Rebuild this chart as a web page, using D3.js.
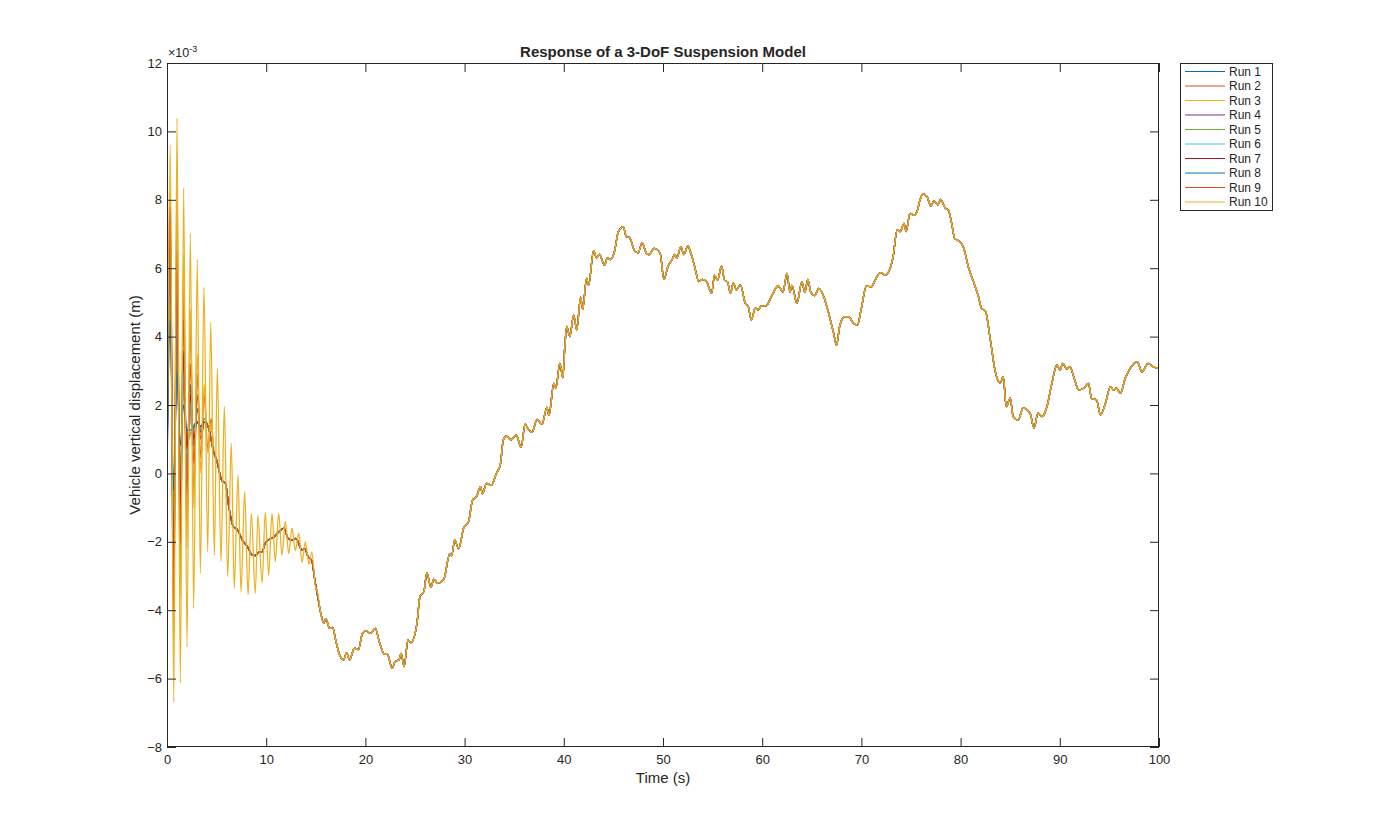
<!DOCTYPE html>
<html><head><meta charset="utf-8">
<script src="https://cdn.jsdelivr.net/npm/d3@7"></script>
<style>
body{margin:0;background:#fff}
svg{display:block}
text{font-family:"Liberation Sans",Arial,Helvetica,sans-serif;fill:#262626}
</style>
</head><body>
<svg id="chart" width="1394" height="840"></svg>
<script>
// ---------------- data (displacement in units of 1e-3 m) ----------------
const chartTitle = "Response of a 3-DoF Suspension Model";
const xLabel = "Time (s)";
const yLabel = "Vehicle vertical displacement (m)";
const runNames = ["Run 1","Run 2","Run 3","Run 4","Run 5","Run 6","Run 7","Run 8","Run 9","Run 10"];
const runColors = ["#0072BD","#D95319","#EDB120","#7E2F8E","#77AC30","#4DBEEE","#A2142F","#0072BD","#D95319","#EDB120"];
const xTicks = [0,10,20,30,40,50,60,70,80,90,100];
const yTicks = [-8,-6,-4,-2,0,2,4,6,8,10,12];

// common trajectory shared by all runs once the start-up transient has settled
const baseTrack = [[1.35,1.51],[2.0,1.27],[2.5,1.27],[3.0,1.51],[3.4,1.37],[3.8,1.51],[4.2,1.32],[4.7,0.63],[5.0,0.39],[5.5,-0.19],[5.9,-0.3],[6.2,-0.92],[6.7,-1.56],[7.1,-1.65],[7.6,-1.95],[8.1,-2.14],[8.6,-2.39],[8.9,-2.4],[9.3,-2.3],[9.6,-2.29],[9.9,-2.04],[10.2,-1.95],[10.8,-1.85],[11.3,-1.7],[11.8,-1.6],[12.2,-1.9],[12.6,-1.95],[13.0,-1.9],[13.6,-2.24],[13.9,-2.2],[14.2,-2.43],[14.6,-2.55],[14.9,-3.12],[15.2,-3.6],[15.5,-4.09],[15.8,-4.38],[16.0,-4.25],[16.4,-4.53],[16.7,-4.5],[17.0,-4.87],[17.4,-5.31],[17.8,-5.45],[18.1,-5.25],[18.4,-5.45],[18.9,-5.11],[19.3,-5.15],[19.7,-4.68],[20.1,-4.6],[20.5,-4.68],[21.0,-4.53],[21.4,-4.92],[21.9,-5.28],[22.2,-5.28],[22.7,-5.7],[23.0,-5.5],[23.4,-5.45],[23.6,-5.26],[23.9,-5.65],[24.3,-4.87],[24.6,-4.95],[25.2,-4.38],[25.5,-3.6],[25.9,-3.45],[26.2,-2.9],[26.6,-3.33],[26.9,-3.1],[27.3,-3.21],[27.9,-3.1],[28.5,-2.36],[28.7,-2.4],[29.0,-1.95],[29.4,-2.2],[29.9,-1.6],[30.4,-1.41],[30.8,-0.78],[31.2,-0.68],[31.6,-0.39],[31.8,-0.6],[32.2,-0.29],[32.7,-0.35],[33.2,0.0],[33.6,0.25],[33.9,0.98],[34.2,1.09],[34.7,0.98],[35.2,1.12],[35.7,0.76],[36.1,1.44],[36.4,1.3],[36.8,1.2],[37.3,1.58],[37.8,1.44],[38.3,1.93],[38.5,1.7],[39.0,2.63],[39.2,2.5],[39.6,3.22],[39.9,2.8],[40.1,3.7],[40.3,4.3],[40.6,4.0],[41.0,4.63],[41.3,4.2],[41.7,5.15],[41.9,4.8],[42.3,5.7],[42.5,5.5],[43.0,6.51],[43.3,6.3],[43.6,6.4],[44.1,6.09],[44.4,6.3],[44.7,6.25],[45.1,6.48],[45.5,7.07],[46.0,7.21],[46.3,6.92],[46.6,6.9],[47.2,6.48],[47.5,6.45],[47.9,6.75],[48.3,6.45],[48.6,6.4],[49.1,6.58],[49.7,6.45],[50.1,5.67],[50.5,6.05],[50.9,6.24],[51.2,6.4],[51.4,6.3],[51.8,6.63],[52.1,6.4],[52.5,6.65],[52.8,6.45],[53.2,6.04],[53.6,5.61],[54.0,5.67],[54.4,5.6],[54.9,5.27],[55.2,5.8],[55.5,5.65],[55.9,6.06],[56.2,5.65],[56.5,5.6],[56.8,5.27],[57.1,5.56],[57.4,5.37],[57.8,5.51],[58.3,4.97],[58.6,4.87],[58.9,4.49],[59.3,4.83],[59.6,4.78],[59.9,4.9],[60.4,4.9],[61.0,5.22],[61.6,5.48],[62.1,5.31],[62.5,5.85],[62.8,5.3],[63.0,5.5],[63.5,4.97],[64.0,5.6],[64.3,5.3],[64.6,5.67],[64.9,5.3],[65.3,5.2],[65.7,5.41],[66.2,5.17],[66.7,4.68],[67.2,4.1],[67.5,3.75],[67.8,4.29],[68.3,4.58],[68.7,4.58],[69.2,4.39],[69.6,4.34],[70.0,4.83],[70.5,5.48],[71.0,5.45],[71.3,5.6],[71.9,5.87],[72.4,5.8],[72.7,5.87],[73.2,6.34],[73.6,7.12],[73.9,7.07],[74.3,7.31],[74.5,7.07],[74.9,7.6],[75.3,7.55],[75.6,7.65],[75.9,7.99],[76.2,8.17],[76.6,8.1],[77.0,7.82],[77.3,7.97],[77.7,7.85],[78.0,8.01],[78.4,7.78],[78.8,7.68],[79.1,7.31],[79.4,6.87],[79.8,6.8],[80.3,6.6],[80.8,6.02],[81.3,5.6],[81.8,5.17],[82.1,4.83],[82.5,4.75],[83.0,3.9],[83.5,2.97],[84.0,2.64],[84.3,2.83],[84.6,1.95],[85.0,2.2],[85.3,1.66],[85.8,1.56],[86.3,1.91],[87.0,1.76],[87.4,1.33],[87.8,1.76],[88.2,1.66],[88.7,1.95],[89.2,2.63],[89.7,3.17],[90.0,3.02],[90.3,3.22],[90.7,3.05],[91.0,3.12],[91.4,2.83],[91.9,2.44],[92.4,2.49],[92.9,2.63],[93.2,2.19],[93.7,2.15],[94.1,1.71],[94.6,2.05],[95.1,2.54],[95.4,2.44],[95.7,2.5],[96.1,2.34],[96.6,2.78],[97.1,3.07],[97.8,3.27],[98.3,2.97],[98.9,3.22],[99.4,3.12],[100,3.07]];

// start-up transients of each run (peaks / troughs)
const run1Start = [[0,0],[0.32,7.0],[0.66,-3.1],[1.0,5.2],[1.33,-1.1],[1.67,3.6],[2.0,0.0],[2.35,2.6],[2.7,0.8],[3.05,1.9],[3.4,1.2],[3.75,1.6]];
const run2Start = [[0,0],[0.32,8.2],[0.66,-4.6],[1.0,7.8],[1.33,-3.0],[1.67,5.5],[2.0,-1.6],[2.35,4.3],[2.7,-0.6],[3.05,2.9],[3.4,0.45],[3.75,2.3],[4.1,0.7],[4.45,1.6]];
const run3Start = [[0,0],[0.32,8.6],[0.66,-5.2],[1.0,8.8],[1.33,-3.6],[1.67,6.4],[2.0,-2.2],[2.35,4.8],[2.7,-1.0],[3.05,3.5],[3.4,0.0],[3.75,2.6],[4.1,0.6],[4.45,1.5],[4.8,0.5]];
const run4Start = [[0,0],[0.32,6.0],[0.66,-2.0],[1.0,4.0],[1.33,-0.3],[1.67,2.8],[2.0,0.5],[2.35,2.0]];
const run5Start = [[0,0],[0.32,5.0],[0.66,-1.0],[1.0,3.5],[1.33,0.2],[1.67,2.4],[2.0,0.9]];
const run6Start = [[0,0],[0.32,6.5],[0.66,-2.5],[1.0,4.8],[1.33,-0.6],[1.67,3.0],[2.0,0.5],[2.35,2.2]];
const run7Start = [[0,0],[0.32,7.8],[0.66,-3.0],[1.0,5.5],[1.33,-1.0],[1.67,3.5],[2.0,0.7],[2.35,2.3],[2.7,1.0]];
const run8Start = [[0,0],[0.32,4.5],[0.66,-0.5],[1.0,3.0],[1.33,0.8],[1.67,2.0]];
const run9Start = [[0,0],[0.32,7.5],[0.66,-4.0],[1.0,6.5],[1.33,-2.0],[1.67,4.5],[2.0,-0.6],[2.35,3.2],[2.7,0.3],[3.05,2.3],[3.4,1.0]];
const run10Start = [[0,0],[0.33,9.6],[0.68,-6.68],[1.01,10.38],[1.34,-6.13],[1.68,8.34],[2.02,-5.07],[2.35,7.02],[2.69,-3.95],[3.05,6.26],[3.36,-2.92],[3.73,5.44],[4.1,-2.29],[4.41,4.42],[4.77,-2.39],[5.07,3.07],[5.44,-2.58],[5.78,1.95],[6.12,-3.02],[6.48,0.88],[6.78,-3.36],[7.16,-0.05],[7.46,-3.46],[7.83,-0.53],[8.17,-3.56],[8.5,-1.17],[8.9,-3.51],[9.17,-1.22],[9.58,-3.21],[9.91,-1.15],[10.25,-2.97],[10.58,-1.17],[10.92,-2.58],[11.26,-1.17],[11.59,-2.39],[11.93,-1.4],[12.27,-2.34],[12.6,-1.6],[12.94,-2.25],[13.28,-1.75],[13.61,-2.6],[13.95,-2.0],[14.3,-2.65],[14.6,-2.3],[14.95,-3.3],[15.2,-3.5],[15.5,-4.1]];

const runStarts = [run1Start,run2Start,run3Start,run4Start,run5Start,run6Start,run7Start,run8Start,run9Start,run10Start];

// ---------------- layout ----------------
const L = 167, R = 1159, T = 63, B = 747;
const svg = d3.select("#chart");
const x = d3.scaleLinear().domain([0,100]).range([L,R]);
const y = d3.scaleLinear().domain([-8,12]).range([B,T]);
const axisColor = "#262626";

const runs = runStarts.map(s => {
  const tEnd = s[s.length-1][0];
  return s.concat(baseTrack.filter(p => p[0] > tEnd + 0.05));
});

svg.append("defs").append("clipPath").attr("id","clip")
  .append("rect").attr("x",L).attr("y",T).attr("width",R-L).attr("height",B-T);

const line = d3.line().x(d => x(d[0])).y(d => y(d[1])).curve(d3.curveMonotoneX);
const gLines = svg.append("g").attr("clip-path","url(#clip)");
runs.forEach((r,i) => {
  gLines.append("path").datum(r).attr("d",line)
    .attr("fill","none").attr("stroke",runColors[i]).attr("stroke-width",1.3)
    .attr("stroke-linejoin","round");
});

function styleAxis(g){
  g.selectAll(".domain").remove();
  g.selectAll(".tick line").attr("stroke",axisColor).attr("stroke-width",1);
  g.selectAll(".tick text").attr("fill",axisColor).style("font-size","13px")
    .style("font-family","'Liberation Sans',Arial,Helvetica,sans-serif");
}
svg.append("g").attr("transform",`translate(0,${B})`)
  .call(d3.axisBottom(x).tickValues(xTicks).tickSizeInner(-9).tickSizeOuter(0).tickPadding(8).tickFormat(d3.format("d")))
  .call(styleAxis);
svg.append("g").attr("transform",`translate(0,${T})`)
  .call(d3.axisTop(x).tickValues(xTicks).tickSizeInner(-9).tickSizeOuter(0).tickFormat(""))
  .call(styleAxis);
svg.append("g").attr("transform",`translate(${L},0)`)
  .call(d3.axisLeft(y).tickValues(yTicks).tickSizeInner(-9).tickSizeOuter(0).tickPadding(5).tickFormat(d3.format("d")))
  .call(styleAxis);
svg.append("g").attr("transform",`translate(${R},0)`)
  .call(d3.axisRight(y).tickValues(yTicks).tickSizeInner(-9).tickSizeOuter(0).tickFormat(""))
  .call(styleAxis);

svg.append("rect").attr("x",L+0.5).attr("y",T+0.5).attr("width",R-L-1).attr("height",B-T-1)
  .attr("fill","none").attr("stroke",axisColor).attr("stroke-width",1);

// exponent label
const ex = svg.append("text").attr("x",168).attr("y",57).style("font-size","12.5px");
ex.append("tspan").text("×10");
ex.append("tspan").attr("dy",-5).style("font-size","9px").text("-3");

// title and labels
svg.append("text").attr("x",(L+R)/2).attr("y",57).attr("text-anchor","middle")
  .style("font-size","15px").style("font-weight","bold").text(chartTitle);
svg.append("text").attr("x",(L+R)/2).attr("y",783).attr("text-anchor","middle")
  .style("font-size","15px").text(xLabel);
svg.append("text").attr("transform",`translate(140,${(T+B)/2}) rotate(-90)`).attr("text-anchor","middle")
  .style("font-size","15px").text(yLabel);

// legend
const lg = svg.append("g");
lg.append("rect").attr("x",1180.5).attr("y",63.5).attr("width",92).attr("height",147)
  .attr("fill","#fff").attr("stroke",axisColor).attr("stroke-width",1);
runNames.forEach((n,i) => {
  const yy = 71.5 + i*14.5;
  lg.append("line").attr("x1",1185).attr("x2",1225).attr("y1",yy).attr("y2",yy)
    .attr("stroke",runColors[i]).attr("stroke-width",1);
  lg.append("text").attr("x",1229).attr("y",yy+4.3).style("font-size","12px").text(n);
});
</script>
</body></html>
